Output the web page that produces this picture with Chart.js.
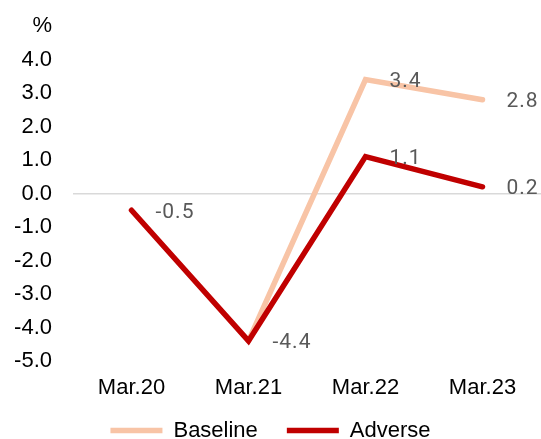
<!DOCTYPE html>
<html>
<head>
<meta charset="utf-8">
<script src="https://cdn.jsdelivr.net/npm/chart.js@4/dist/chart.umd.min.js"></script>
<style>
  html, body { margin: 0; padding: 0; background: #fff; }
  #wrap { width: 541px; height: 439px; position: relative; }
</style>
</head>
<body>
<div id="wrap"><canvas id="c"></canvas></div>
<script>
// Periods on the x axis
const periods = ['Mar.20', 'Mar.21', 'Mar.22', 'Mar.23'];
// Growth path, % (baseline starts from the Mar.21 trough)
const baseline = [null, -4.4, 3.4, 2.8];
const adverse = [-0.5, -4.4, 1.1, 0.2];
// Value axis range and the unit shown at its top
const axisMin = -5;
const axisMax = 5;
const unitLabel = '%';

const axisFont = { family: '"Liberation Sans", Arial, sans-serif', size: 22 };

// Value labels to the right of each point
const valueLabels = {
  id: 'valueLabels',
  afterDatasetsDraw(chart) {
    const ctx = chart.ctx;
    ctx.save();
    ctx.font = '21px Roboto, "Liberation Sans", sans-serif';
    ctx.fillStyle = '#595959';
    ctx.textAlign = 'left';
    ctx.textBaseline = 'middle';
    if ('letterSpacing' in ctx) ctx.letterSpacing = '1px';
    chart.data.datasets.forEach((ds, di) => {
      const meta = chart.getDatasetMeta(di);
      meta.data.forEach((pt, i) => {
        const v = ds.data[i];
        if (v === null || v === undefined) return;
        // one label where both paths share a point
        if (ds.label === 'Baseline' && adverse[i] === v) return;
        ctx.fillText(v.toFixed(1), pt.x + 24, pt.y + 2);
      });
    });
    ctx.restore();
  }
};

new Chart(document.getElementById('c'), {
  type: 'line',
  data: {
    labels: periods,
    datasets: [
      { label: 'Baseline', data: baseline, borderColor: '#F8C4A6', backgroundColor: '#F8C4A6',
        borderWidth: 5.5, borderCapStyle: 'round', borderJoinStyle: 'miter', pointRadius: 0, tension: 0, order: 1 },
      { label: 'Adverse', data: adverse, borderColor: '#C00000', backgroundColor: '#C00000',
        borderWidth: 5.5, borderCapStyle: 'round', borderJoinStyle: 'miter', pointRadius: 0, tension: 0, order: 0 }
    ]
  },
  options: {
    responsive: true,
    maintainAspectRatio: false,
    animation: false,
    layout: { padding: { top: 26, left: 0, right: 0, bottom: -12.5 } },
    scales: {
      x: {
        offset: true,
        grid: { display: false, drawTicks: false },
        border: { display: false },
        ticks: { font: axisFont, color: '#000', padding: 14, maxRotation: 0 },
        // fixed band for the period labels; labels may run into the legend band
        afterFit(scale) { scale.height = 29.5; scale._computeLabelArea = () => undefined; }
      },
      y: {
        min: axisMin, max: axisMax,
        grid: { drawTicks: false, lineWidth: 1.5,
          color: (c) => (c.tick && c.tick.value === 0 ? '#D9D9D9' : 'rgba(0,0,0,0)') },
        border: { display: false },
        ticks: { stepSize: 1, font: axisFont, color: '#000', padding: 21,
          callback: (v) => (v === axisMax ? unitLabel : Number(v).toFixed(1)) },
        afterFit(scale) { scale.width = 73; scale.paddingTop = 0; scale.paddingBottom = 0; }
      }
    },
    plugins: {
      tooltip: { enabled: false },
      legend: {
        position: 'bottom',
        labels: { font: axisFont, color: '#000', usePointStyle: true, pointStyle: 'line',
          pointStyleWidth: 52, padding: 29, sort: (a, b) => a.datasetIndex - b.datasetIndex }
      }
    }
  },
  plugins: [valueLabels]
});
</script>
</body>
</html>
